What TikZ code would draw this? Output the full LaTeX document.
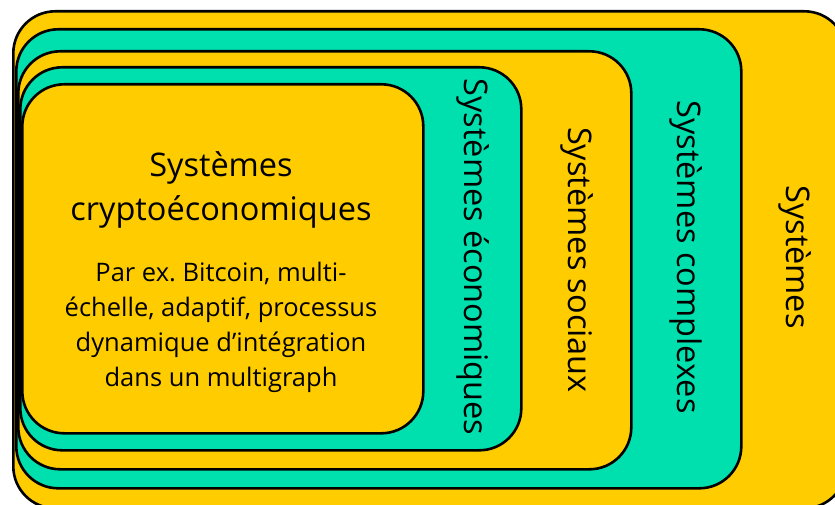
\documentclass[tikz,border=0pt]{standalone}
\usepackage{fontspec}
\setmainfont{Open Sans}
\frenchspacing
\definecolor{ylw}{HTML}{FFCC00}
\definecolor{mint}{HTML}{00E0AE}
\begin{document}
\begin{tikzpicture}[x=1pt,y=-1pt,
  layer/.style={draw=black,line width=2.6pt,rounded corners=42pt,anchor=north west,inner sep=0pt},
  lbl/.style={font=\fontsize{32.5}{38}\selectfont,rotate=-90,inner sep=0pt},
  head/.style={font=\fontsize{32.5}{44}\selectfont,align=center,inner sep=0pt},
  body/.style={font=\fontsize{25.5}{35}\selectfont,align=center,inner sep=0pt}]
\useasboundingbox (0,0) rectangle (835,505);
\begin{scope}
\clip (0,0) rectangle (835,505);
\node[layer,fill=ylw,minimum width=833pt,minimum height=497pt] (sys) at (12,10) {};
\node[layer,fill=mint,minimum width=725pt,minimum height=459pt] (cplx) at (15,28) {};
\node[layer,fill=ylw,minimum width=613pt,minimum height=418pt] (soc) at (17,50) {};
\node[layer,fill=mint,minimum width=501pt,minimum height=383pt] (eco) at (19,66) {};
\node[layer,fill=ylw,minimum width=401pt,minimum height=349pt] (crypto) at (21,83) {};
\end{scope}
\node[head] (t1) at (221,190) {Systèmes\\cryptoéconomiques};
\node[body] (t2) at (221,327) {Par ex. Bitcoin, multi-\\échelle, adaptif, processus\\dynamique d’intégration\\dans un multigraph};
\node[lbl] (l1) at (473,257) {Systèmes économiques};
\node[lbl] (l2) at (577,260) {Systèmes sociaux};
\node[lbl] (l3) at (686,257) {Systèmes complexes};
\node[lbl] (l4) at (795,257) {Systèmes};
\end{tikzpicture}
\end{document}
